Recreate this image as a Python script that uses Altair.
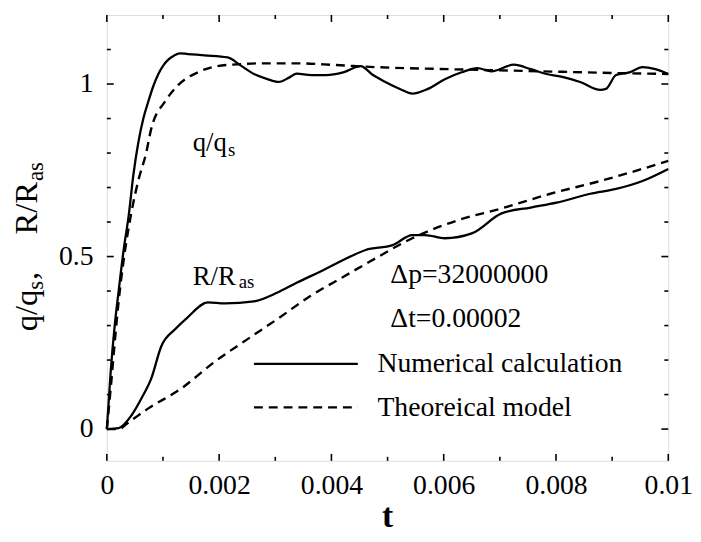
import altair as alt
import pandas as pd

# ---------------- data ----------------
t_q_num = [0.0, 0.00007, 0.00014, 0.00021, 0.0003, 0.00039, 0.000475, 0.00056, 0.00065, 0.00074,
           0.00083, 0.00092, 0.00101, 0.00109, 0.0012, 0.0013, 0.00144, 0.00174, 0.00215, 0.00238,
           0.00262, 0.00285, 0.00306,
           0.00326, 0.00338, 0.00364, 0.00391, 0.00421, 0.00452, 0.00474, 0.00496, 0.00523, 0.00544,
           0.00572, 0.00602, 0.00632, 0.0066, 0.00685, 0.00725, 0.00755, 0.00783, 0.00813, 0.00843,
           0.00879, 0.00889, 0.00907, 0.00931, 0.00954, 0.00977, 0.01]
q_num = [0.0, 0.17, 0.30, 0.40, 0.52, 0.62, 0.74, 0.83, 0.90, 0.95,
         0.995, 1.03, 1.055, 1.07, 1.083, 1.089, 1.087, 1.083, 1.077, 1.054,
         1.029, 1.015, 1.006,
         1.02, 1.03, 1.026, 1.026, 1.034, 1.052, 1.026, 1.006, 0.985, 0.972,
         0.986, 1.014, 1.034, 1.046, 1.037, 1.056, 1.043, 1.029, 1.02, 1.006,
         0.983, 0.986, 1.026, 1.034, 1.049, 1.043, 1.029]

t_q_th = [0.0, 0.00007, 0.00014, 0.00021, 0.0003, 0.00044, 0.00056, 0.0007, 0.00079, 0.00104,
          0.00127, 0.00162, 0.00197, 0.00232, 0.0028, 0.00338, 0.00408, 0.00479, 0.00585, 0.0069,
          0.00796, 0.00901, 0.01]
q_th = [0.0, 0.12, 0.25, 0.37, 0.49, 0.63, 0.72, 0.80, 0.87, 0.95,
        0.997, 1.034, 1.052, 1.057, 1.06, 1.06, 1.055, 1.049, 1.044, 1.04,
        1.036, 1.032, 1.029]

t_r_num = [0.0, 0.00021, 0.00044, 0.00062, 0.00079, 0.00097, 0.00122, 0.00144, 0.0018, 0.0021,
           0.00262, 0.00303, 0.00338, 0.00386, 0.00421, 0.00461, 0.00509, 0.00544, 0.00567, 0.00602,
           0.0065, 0.00703, 0.00755, 0.00801, 0.00861, 0.00907, 0.00954, 0.01]
r_num = [0.0, 0.003, 0.04, 0.09, 0.146, 0.24, 0.29, 0.324, 0.367, 0.364,
         0.37, 0.395, 0.424, 0.461, 0.49, 0.519, 0.533, 0.562, 0.562, 0.553,
         0.567, 0.625, 0.642, 0.656, 0.682, 0.696, 0.719, 0.754]

t_r_th = [0.0, 0.00021, 0.00039, 0.00074, 0.00132, 0.00192, 0.0025, 0.00303, 0.00361, 0.00421,
          0.00467, 0.00544, 0.00625, 0.00702, 0.0079, 0.00879, 0.01]
r_th = [0.0, 0.0, 0.02, 0.06, 0.117, 0.195, 0.26, 0.318, 0.384, 0.441,
        0.484, 0.553, 0.605, 0.639, 0.682, 0.719, 0.777]

x_major = [0.0, 0.002, 0.004, 0.006, 0.008, 0.01]
x_minor = [0.001, 0.003, 0.005, 0.007, 0.009]
y_major = [0.0, 0.5, 1.0]
y_minor = [0.1, 0.2, 0.3, 0.4, 0.6, 0.7, 0.8, 0.9, 1.1]

legend_labels = ["Numerical calculation", "Theoreical model"]
param_labels = ["\u0394p=32000000", "\u0394t=0.00002"]
x_title = ["t"]

# ---------------- layout / style ----------------
W, H = 568, 451
FONT = "Liberation Serif, Times New Roman, Times, serif"
xs = alt.Scale(domain=[0, 0.01], nice=False, zero=False)
ys = alt.Scale(domain=[-0.092, 1.2], nice=False, zero=False)

X = alt.X("t:Q", scale=xs, title="",
          axis=alt.Axis(values=x_major, format="~g", ticks=False, domain=False, grid=False,
                        labelFont=FONT, labelFontSize=28, labelColor="black",
                        labelPadding=11, labelFlush=False, labelOverlap=False))
Y = alt.Y("v:Q", scale=ys, title="",
          axis=alt.Axis(values=y_major, format="~g", ticks=False, domain=False, grid=False,
                        labelFont=FONT, labelFontSize=28, labelColor="black",
                        labelPadding=14, labelFlush=False, labelOverlap=False))


def curve(ts, vs, dashed):
    df = pd.DataFrame({"t": ts, "v": vs})
    if dashed:
        m = alt.Chart(df).mark_line(color="black", strokeWidth=2.4, strokeDash=[9, 6],
                                    interpolate="monotone")
    else:
        m = alt.Chart(df).mark_line(color="black", strokeWidth=2.3, interpolate="monotone")
    return m.encode(x=X, y=Y)


layers = [
    curve(t_q_num, q_num, False),
    curve(t_q_th, q_th, True),
    curve(t_r_num, r_num, False),
    curve(t_r_th, r_th, True),
]


def xticks(vals, length):
    df = pd.DataFrame({"t": vals})
    bot = alt.Chart(df).mark_rule(color="black", strokeWidth=1.6).encode(
        x=X, y=alt.value(H), y2=alt.value(H - length))
    top = alt.Chart(df).mark_rule(color="black", strokeWidth=1.6).encode(
        x=X, y=alt.value(0), y2=alt.value(length))
    return [bot, top]


def yticks(vals, length):
    df = pd.DataFrame({"v": vals})
    left = alt.Chart(df).mark_rule(color="black", strokeWidth=1.6).encode(
        y=Y, x=alt.value(0), x2=alt.value(length))
    right = alt.Chart(df).mark_rule(color="black", strokeWidth=1.6).encode(
        y=Y, x=alt.value(W), x2=alt.value(W - length))
    return [left, right]


layers += xticks(x_major, 7) + xticks(x_minor, 4) + yticks(y_major, 7) + yticks(y_minor, 4)

# legend samples
leg_t = [0.00262, 0.00447]
leg_df1 = pd.DataFrame({"t": leg_t, "v": [0.189, 0.189]})
leg_df2 = pd.DataFrame({"t": leg_t, "v": [0.063, 0.063]})
layers.append(alt.Chart(leg_df1).mark_line(color="black", strokeWidth=2.3).encode(x=X, y=Y))
layers.append(alt.Chart(leg_df2).mark_line(color="black", strokeWidth=2.4,
                                           strokeDash=[9, 6]).encode(x=X, y=Y))


def label(txt, t, v, size, weight="normal"):
    df = pd.DataFrame({"s": [txt], "t": [t], "v": [v]})
    return alt.Chart(df).mark_text(font=FONT, fontSize=size, fontWeight=weight, color="black",
                                   align="left", baseline="alphabetic").encode(
        x=X, y=Y, text="s:N")


layers += [
    label(legend_labels[0], 0.00482, 0.166, 28),
    label(legend_labels[1], 0.00482, 0.037, 28),
    label(param_labels[0], 0.00505, 0.424, 28),
    label(param_labels[1], 0.00505, 0.295, 28),
    label("q/q", 0.00153, 0.805, 27),
    label("s", 0.00216, 0.79, 19),
    label("R/R", 0.00153, 0.418, 27),
    label("as", 0.00235, 0.41, 19),
]


def ptext(txt, x, y, size, angle=0, weight="normal", align="left"):
    df = pd.DataFrame({"s": [txt]})
    kw = dict(font=FONT, fontSize=size, fontWeight=weight, color="black",
              align=align, baseline="alphabetic")
    if angle:
        kw["angle"] = angle
    return alt.Chart(df).mark_text(**kw).encode(x=alt.value(x), y=alt.value(y), text="s:N")


# y-axis title: q/q_s, R/R_as (rotated)
layers += [
    ptext("q/q", -71, 320, 33, angle=270),
    ptext("s", -65, 278, 23, angle=270),
    ptext(",", -71, 268, 33, angle=270),
    ptext("R/R", -71, 222, 33, angle=270),
    ptext("as", -65, 168, 23, angle=270),
    ptext(x_title[0], W / 2, 518, 34, weight="bold", align="center"),
]

chart = alt.layer(*layers).properties(
    width=W, height=H,
    autosize=alt.AutoSizeParams(type="none"),
    padding={"left": 100, "top": 4, "right": 25, "bottom": 76},
).configure_view(stroke="black", strokeWidth=2.2).configure(background="white")

chart.save("out.html", embed_options={"renderer": "svg", "actions": False})
